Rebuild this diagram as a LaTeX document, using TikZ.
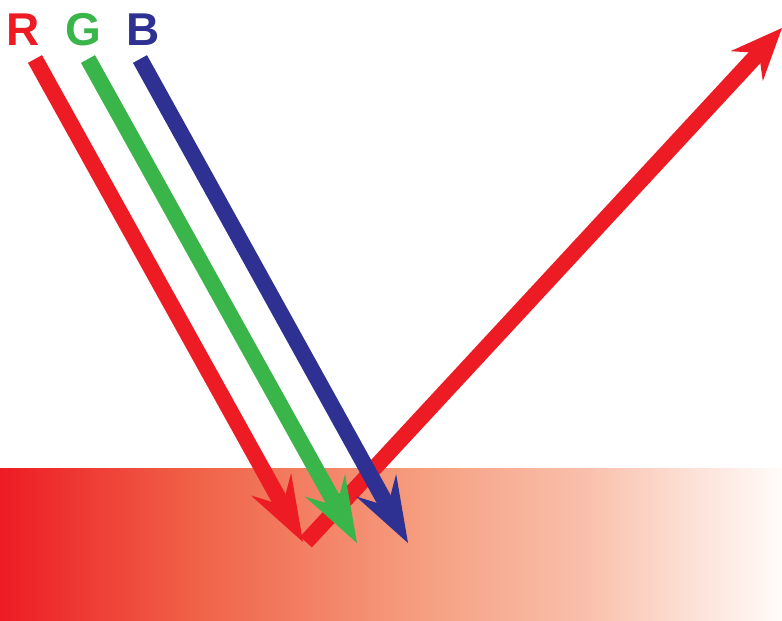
\documentclass[tikz,border=0pt]{standalone}
\usepackage{fontspec}
\setmainfont{Liberation Sans}
\usetikzlibrary{arrows.meta}

\definecolor{rayred}{RGB}{237,28,36}
\definecolor{raygreen}{RGB}{57,181,74}
\definecolor{rayblue}{RGB}{46,49,146}
\definecolor{surfA}{RGB}{240,98,72}
\definecolor{surfB}{RGB}{246,160,130}
\definecolor{surfC}{RGB}{249,192,172}
\definecolor{surfD}{RGB}{255,252,250}
\pgfdeclarehorizontalshading{surface}{100bp}{color(0bp)=(rayred); color(25bp)=(rayred);
  color(37.5bp)=(surfA); color(52.5bp)=(surfB); color(62.5bp)=(surfC);
  color(75bp)=(surfD); color(100bp)=(surfD)}

\begin{document}
\begin{tikzpicture}[x=1pt, y=-1pt,
  ray/.style={line width=16pt, -{Stealth[length=66pt, width=46pt, inset=24pt, line width=0pt]}},
  outray/.style={line width=16pt, -{Stealth[length=52pt, width=44pt, inset=18pt, line width=0pt]}},
  lbl/.style={font=\fontsize{46}{46}\selectfont\bfseries, inner sep=0pt, anchor=base}]
\useasboundingbox (0,0) rectangle (782,621);

% surface
\fill[shading=surface] (0,468) rectangle (782,621);

% labels
\node[lbl, text=rayred] (labR) at (23,45) {R};
\node[lbl, text=raygreen] (labG) at (83,45) {G};
\node[lbl, text=rayblue] (labB) at (143,45) {B};

% ray ends
\coordinate (rStart) at (35,59);
\coordinate (rHit) at (303,542);
\coordinate (gStart) at (88,59);
\coordinate (gHit) at (357,543);
\coordinate (bStart) at (140,59);
\coordinate (bHit) at (408,543);
\coordinate (outStart) at (306,542);
\coordinate (outEnd) at (782,28);

% reflected red first, incoming rays on top
\draw[outray, rayred] (outStart) -- (outEnd);
\draw[ray, rayred] (rStart) -- (rHit);
\draw[ray, raygreen] (gStart) -- (gHit);
\draw[ray, rayblue] (bStart) -- (bHit);
\end{tikzpicture}
\end{document}
